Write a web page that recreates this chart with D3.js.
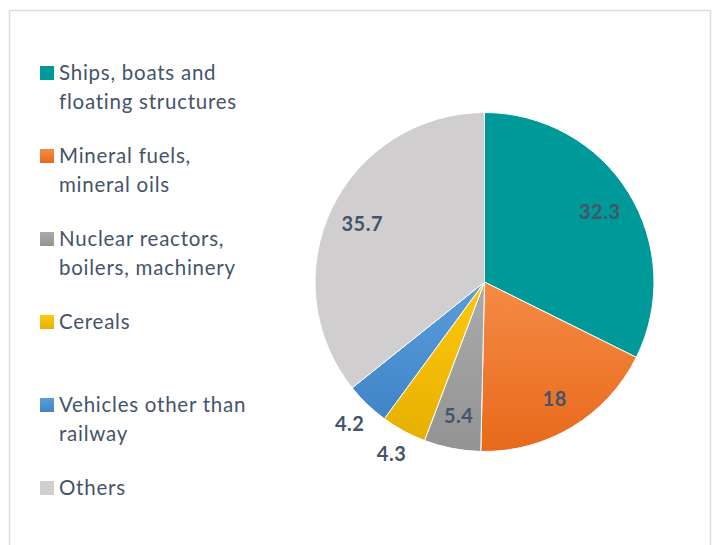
<!DOCTYPE html>
<html><head><meta charset="utf-8">
<script src="https://cdn.jsdelivr.net/npm/d3@7"></script>
<style>html,body{margin:0;padding:0;background:#fff;}svg{display:block;}</style>
</head><body>
<svg id="c" width="716" height="545"></svg>
<script>
const categories = ["Ships, boats and floating structures","Mineral fuels, mineral oils","Nuclear reactors, boilers, machinery","Cereals","Vehicles other than railway","Others"];
const legendLines = [["Ships, boats and","floating structures"],["Mineral fuels,","mineral oils"],["Nuclear reactors,","boilers, machinery"],["Cereals"],["Vehicles other than","railway"],["Others"]];
const values = [32.3, 18, 5.4, 4.3, 4.2, 35.7];
const labels = ["32.3","18","5.4","4.3","4.2","35.7"];
const colorsTop = ["#009999","#f58b45","#ababab","#ffc80f","#5a9ddb","#d0cece"];
const colorsBottom = ["#009999","#e8691b","#939393","#e6b000","#3f85c7","#d0cece"];

const svg = d3.select("#c");
const font = "Lato, 'Open Sans', sans-serif";
const textColor = "#44546a";

svg.append("rect").attr("x",9.5).attr("y",10.5).attr("width",701).attr("height",560)
  .attr("fill","#fff").attr("stroke","#d9dde5").attr("stroke-width",1.5);

const defs = svg.append("defs");
values.forEach((v,i)=>{
  const g = defs.append("linearGradient").attr("id","g"+i).attr("x1",0).attr("y1",0).attr("x2",0).attr("y2",1);
  g.append("stop").attr("offset","0%").attr("stop-color",colorsTop[i]);
  g.append("stop").attr("offset","100%").attr("stop-color",colorsBottom[i]);
});

const cx = 484.5, cy = 282, R = 169.5;
const pie = d3.pie().sort(null).value(d=>d);
const arcs = pie(values);
const arc = d3.arc().innerRadius(0).outerRadius(R);
const gp = svg.append("g").attr("transform",`translate(${cx},${cy})`);
gp.selectAll("path").data(arcs).join("path")
  .attr("d",arc).attr("fill",(d,i)=>`url(#g${i})`)
  .attr("stroke","#fff").attr("stroke-width",1);

const inArc = d3.arc().innerRadius(R*0.8).outerRadius(R*0.8);
const outArc = d3.arc().innerRadius(R*1.15).outerRadius(R*1.15);
gp.selectAll("text").data(arcs).join("text")
  .attr("transform",d=>{
    const c = (d.data < 5 && d.index!==2 ? outArc : inArc).centroid(d);
    return `translate(${c[0]},${c[1]})`;
  })
  .attr("text-anchor","middle").attr("dominant-baseline","central")
  .attr("font-family",font).attr("font-weight","bold").attr("font-size",20)
  .attr("letter-spacing",0.5)
  .attr("fill",textColor)
  .text((d,i)=>labels[i]);

const lg = svg.append("g");
const legendTop = 73, legendStep = 83;
legendLines.forEach((lines,i)=>{
  const y = legendTop + i*legendStep;
  lg.append("rect").attr("x",40).attr("y",y-7).attr("width",14).attr("height",14)
    .attr("fill",`url(#g${i})`);
  const t = lg.append("text").attr("font-family",font).attr("font-size",20.5)
    .attr("letter-spacing",0.75).style("font-variant-ligatures","none").attr("fill",textColor);
  lines.forEach((l,j)=>{
    t.append("tspan").attr("x",59).attr("y",y+7+j*28.5).text(l);
  });
});
</script>
</body></html>
